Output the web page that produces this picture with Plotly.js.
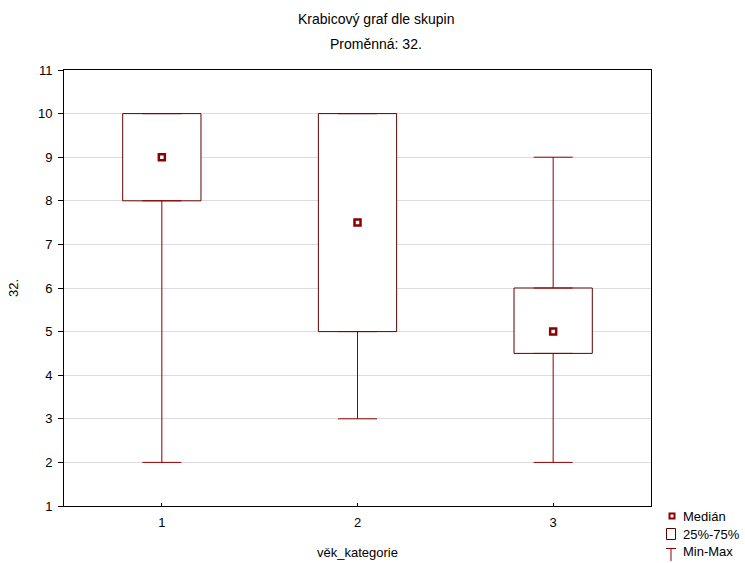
<!DOCTYPE html>
<html>
<head>
<meta charset="utf-8">
<script src="https://cdn.plot.ly/plotly-3.0.1.min.js"></script>
<style>html,body{margin:0;padding:0;background:#fff;}#chart{width:745px;height:563px;}</style>
</head>
<body>
<div id="chart"></div>
<script>
// Data
var categories = ['1', '2', '3'];
var minValues = [2, 3, 2];
var q1Values = [8, 5, 4.5];
var medianValues = [9, 7.5, 5];
var q3Values = [10, 10, 6];
var maxValues = [10, 10, 9];

var legendLabels = ['Medián', '25%-75%', 'Min-Max'];
var chartTitle = 'Krabicový graf dle skupin';
var chartSubtitle = 'Proměnná: 32.';
var xTitle = 'věk_kategorie';
var yTitle = '32.';

var boxColor = '#5e0000';
var whiskerColor = '#8b0000';
var FONT = '"Liberation Sans", Arial, sans-serif';

// plot area in pixels (for legend decorations only)
var L = 64, R = 651, T = 70, B = 506;
function px(x) { return (x - L) / (R - L); }
function py(y) { return (B - y) / (B - T); }

var boxTrace = {
  type: 'bar',
  x: categories,
  y: q3Values.map(function (v, i) { return v - q1Values[i]; }),
  base: q1Values,
  width: 0.4,
  marker: { color: '#ffffff', line: { color: boxColor, width: 1 } },
  showlegend: false,
  hoverinfo: 'skip'
};

var upperWhisker = {
  type: 'scatter',
  mode: 'markers',
  x: categories,
  y: q3Values,
  marker: { size: 1, opacity: 0 },
  error_y: {
    type: 'data', symmetric: false,
    array: maxValues.map(function (v, i) { return v - q3Values[i]; }),
    arrayminus: q3Values.map(function () { return 0; }),
    color: whiskerColor, thickness: 1, width: 19.5
  },
  showlegend: false,
  hoverinfo: 'skip'
};

var lowerWhisker = {
  type: 'scatter',
  mode: 'markers',
  x: categories,
  y: q1Values,
  marker: { size: 1, opacity: 0 },
  error_y: {
    type: 'data', symmetric: false,
    array: q1Values.map(function () { return 0; }),
    arrayminus: q1Values.map(function (v, i) { return v - minValues[i]; }),
    color: whiskerColor, thickness: 1, width: 19.5
  },
  showlegend: false,
  hoverinfo: 'skip'
};

var medianTrace = {
  type: 'scatter',
  mode: 'markers',
  x: categories,
  y: medianValues,
  marker: { symbol: 'square', size: 6, color: '#ffffff', line: { color: whiskerColor, width: 2.5 } },
  showlegend: false
};

var shapes = [
  // Medián marker
  { type: 'rect', xref: 'paper', yref: 'paper', x0: px(668.5), x1: px(675.5), y0: py(519.5), y1: py(512.5),
    fillcolor: whiskerColor, line: { width: 0 } },
  { type: 'rect', xref: 'paper', yref: 'paper', x0: px(670.5), x1: px(673.5), y0: py(517.5), y1: py(514.5),
    fillcolor: '#ffffff', line: { width: 0 } },
  // 25%-75% box
  { type: 'rect', xref: 'paper', yref: 'paper', x0: px(666.5), x1: px(675.5), y0: py(539.5), y1: py(528.5),
    fillcolor: '#ffffff', line: { color: boxColor, width: 1 } },
  // Min-Max T
  { type: 'line', xref: 'paper', yref: 'paper', x0: px(666), x1: px(676), y0: py(548.5), y1: py(548.5),
    line: { color: whiskerColor, width: 1 } },
  { type: 'line', xref: 'paper', yref: 'paper', x0: px(671), x1: px(671), y0: py(548.5), y1: py(561),
    line: { color: whiskerColor, width: 1 } }
];

var annotations = [
  { text: chartTitle, xref: 'paper', yref: 'paper', x: px(376), y: py(19), xanchor: 'center', yanchor: 'middle',
    showarrow: false, font: { family: FONT, size: 14, color: '#000' } },
  { text: chartSubtitle, xref: 'paper', yref: 'paper', x: px(376), y: py(44), xanchor: 'center', yanchor: 'middle',
    showarrow: false, font: { family: FONT, size: 14, color: '#000' } },
  { text: legendLabels[0], xref: 'paper', yref: 'paper', x: px(681), y: py(516), xanchor: 'left', yanchor: 'middle',
    showarrow: false, font: { family: FONT, size: 13, color: '#000' } },
  { text: legendLabels[1], xref: 'paper', yref: 'paper', x: px(681), y: py(534), xanchor: 'left', yanchor: 'middle',
    showarrow: false, font: { family: FONT, size: 13, color: '#000' } },
  { text: legendLabels[2], xref: 'paper', yref: 'paper', x: px(681), y: py(551), xanchor: 'left', yanchor: 'middle',
    showarrow: false, font: { family: FONT, size: 13, color: '#000' } }
];

var layout = {
  width: 745, height: 563,
  margin: { l: L, r: 745 - R, t: T, b: 563 - B, pad: 0 },
  paper_bgcolor: '#ffffff', plot_bgcolor: '#ffffff',
  font: { family: FONT, size: 13, color: '#000' },
  showlegend: false,
  xaxis: {
    type: 'category', range: [-0.5, 2.5],
    showline: true, mirror: true, linecolor: '#000', linewidth: 1,
    ticks: 'inside', ticklen: 3, tickcolor: '#000',
    showgrid: false, zeroline: false, fixedrange: true,
    tickfont: { family: FONT, size: 13, color: '#000' },
    ticklabelstandoff: 4,
    title: { text: xTitle, font: { family: FONT, size: 13, color: '#000' }, standoff: 19 }
  },
  yaxis: {
    range: [1, 11], dtick: 1, tick0: 1,
    showline: true, mirror: true, linecolor: '#000', linewidth: 1,
    ticks: 'outside', ticklen: 5, tickcolor: '#000',
    showgrid: true, gridcolor: '#dcdcdc', gridwidth: 1, zeroline: false, fixedrange: true,
    tickfont: { family: FONT, size: 13, color: '#000' },
    ticklabelstandoff: 3,
    title: { text: yTitle, font: { family: FONT, size: 13, color: '#000' }, standoff: 16 }
  },
  bargap: 0,
  shapes: shapes,
  annotations: annotations
};

Plotly.newPlot('chart', [boxTrace, upperWhisker, lowerWhisker, medianTrace], layout, { staticPlot: true, displayModeBar: false });
</script>
</body>
</html>
